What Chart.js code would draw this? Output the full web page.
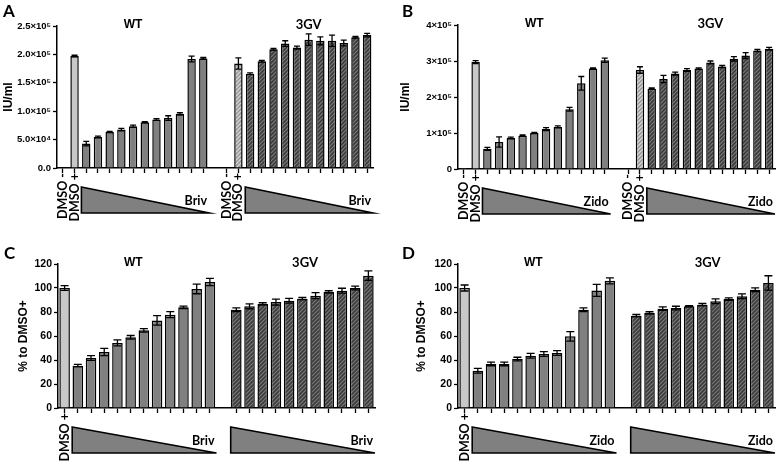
<!DOCTYPE html>
<html>
<head>
<meta charset="utf-8">
<script src="https://cdn.jsdelivr.net/npm/chart.js@4.4.1/dist/chart.umd.min.js"></script>
<style>
  html, body { margin: 0; padding: 0; background: #fff; }
  #wrap { position: relative; width: 777px; height: 464px; overflow: hidden; }
  canvas { position: absolute; }
</style>
</head>
<body>
<div id="wrap">
  <canvas id="cA" width="388" height="232" style="left:0;top:0"></canvas>
  <canvas id="cB" width="389" height="232" style="left:388px;top:0"></canvas>
  <canvas id="cC" width="388" height="232" style="left:0;top:232px"></canvas>
  <canvas id="cD" width="389" height="232" style="left:388px;top:232px"></canvas>
</div>
<script>
// ── DATA ──────────────────────────────────────────────────────
// A/B: 13 WT bars, one empty slot, 13 3GV bars
const catsAB = ['DMSO -', 'DMSO +', '', '', '', '', '', '', '', '', '', '', '',
                '',
                'DMSO -', 'DMSO +', '', '', '', '', '', '', '', '', '', '', ''];
// C/D: 12 WT bars, one empty slot, 11 3GV bars
const catsCD = ['DMSO +', '', '', '', '', '', '', '', '', '', '', '',
                '',
                '', '', '', '', '', '', '', '', '', '', ''];

const aWT    = [1000, 197000, 43000, 54700, 63500, 67600, 73500, 80600, 85300, 88000, 95300, 192000, 193000];
const aWTerr = [0, 1500, 4000, 1500, 1000, 2000, 2000, 1000, 1500, 4000, 2000, 5000, 1500];
const a3GV    = [1000, 184000, 166000, 188000, 209000, 219000, 212000, 226000, 224000, 224000, 220000, 230000, 234000];
const a3GVerr = [0, 10000, 1500, 1500, 1500, 5000, 2500, 10000, 7000, 10000, 5000, 1500, 3000];

const bWT    = [3000, 297000, 56000, 75000, 86000, 92500, 100000, 111000, 117000, 166000, 238000, 279000, 302000];
const bWTerr = [0, 4000, 4000, 14000, 2500, 2000, 2000, 4000, 3000, 5000, 19000, 1500, 6000];
const b3GV    = [0, 275000, 223000, 250000, 265000, 275000, 279000, 296000, 285000, 306000, 315000, 329000, 334000];
const b3GVerr = [0, 9000, 2000, 10000, 4000, 4000, 2000, 4000, 3000, 6000, 8000, 3000, 4000];

const cWT    = [100, 35.3, 41.7, 46.7, 54.2, 58.9, 64.7, 73, 77.8, 83.9, 99.2, 105];
const cWTerr = [2, 1, 2, 3, 2.5, 1.5, 1.5, 4, 2.5, 1, 4, 3];
const c3GV    = [81.9, 84.7, 86.7, 88.3, 89.4, 91.1, 93.6, 96.7, 97.8, 100, 110.3];
const c3GVerr = [1.5, 2, 1, 2.5, 2, 1, 2.5, 1, 2, 1.5, 4];

const dWT    = [100, 31.1, 36.7, 36.7, 40.8, 43.6, 45, 45.8, 59.7, 81.9, 98, 106];
const dWTerr = [2.5, 2, 1.5, 1.5, 1.5, 2, 2, 2, 4, 1.5, 5, 2.5];
const d3GV    = [76.9, 79.2, 82.8, 83.3, 84.7, 86.1, 88.9, 90.8, 93.1, 98.6, 104.2];
const d3GVerr = [1, 1, 1.5, 1.5, 0.5, 1, 2, 1, 2, 1.5, 6];

const aTicks = [0, 50000, 100000, 150000, 200000, 250000];
const aTickLabels = ['0.0', '5.0×10⁴', '1.0×10⁵', '1.5×10⁵', '2.0×10⁵', '2.5×10⁵'];
const bTicks = [0, 100000, 200000, 300000, 400000];
const bTickLabels = ['0', '1×10⁵', '2×10⁵', '3×10⁵', '4×10⁵'];
const pctTicks = [0, 20, 40, 60, 80, 100, 120];
const pctTickLabels = ['0', '20', '40', '60', '80', '100', '120'];

// ── STYLE HELPERS ─────────────────────────────────────────────
const LIGHT = '#c8c8c8';
const MID   = '#808080';

function hatch(bg, fg) {
  const c = document.createElement('canvas');
  c.width = 4; c.height = 4;
  const x = c.getContext('2d');
  x.fillStyle = bg; x.fillRect(0, 0, 4, 4);
  x.strokeStyle = fg; x.lineWidth = 1.2;
  x.beginPath();
  x.moveTo(0, 4); x.lineTo(4, 0);
  x.moveTo(-1, 1); x.lineTo(1, -1);
  x.moveTo(3, 5); x.lineTo(5, 3);
  x.stroke();
  return x.createPattern(c, 'repeat');
}
const DARK_H  = hatch('#3c3c3c', '#7a7a7a');
const LIGHT_H = hatch('#9a9a9a', '#dcdcdc');

// colours for one group: controls first, then drug bars
function groupColors(n, ctrl, drug) {
  return Array.from({ length: n }, (_, i) => i < ctrl.length ? ctrl[i] : drug);
}

// ── DECORATION PLUGIN: error bars, titles, triangles, letter ──
const deco = {
  id: 'deco',
  afterDatasetsDraw(chart, args, o) {
    const { ctx, chartArea: area, scales: { x, y } } = chart;
    const slot = x.getPixelForValue(1) - x.getPixelForValue(0);
    const data = chart.data.datasets[0].data;
    ctx.save();

    // error bars
    ctx.strokeStyle = '#000';
    ctx.lineWidth = 1.3;
    o.err.forEach((e, i) => {
      const v = data[i];
      if (v == null || !e) return;
      const px = x.getPixelForValue(i);
      const y1 = y.getPixelForValue(v + e), y2 = y.getPixelForValue(v - e);
      ctx.beginPath();
      ctx.moveTo(px, y1); ctx.lineTo(px, y2);
      ctx.moveTo(px - o.cap, y1); ctx.lineTo(px + o.cap, y1);
      ctx.moveTo(px - o.cap, y2); ctx.lineTo(px + o.cap, y2);
      ctx.stroke();
    });

    // group titles
    ctx.fillStyle = '#000';
    ctx.textAlign = 'center';
    ctx.textBaseline = 'middle';
    o.titles.forEach(t => {
      ctx.font = t.font;
      ctx.fillText(t.text, x.getPixelForValue(t.slot), area.top - 1);
    });

    // dose triangles
    o.tris.forEach(t => {
      const left  = x.getPixelForValue(t.from) - slot / 2 + 1;
      const right = x.getPixelForValue(t.to) + slot / 2;
      const top = area.bottom + 19, bot = area.bottom + 45;
      ctx.beginPath();
      ctx.moveTo(left, top); ctx.lineTo(right, bot); ctx.lineTo(left, bot);
      ctx.closePath();
      ctx.fillStyle = MID; ctx.fill();
      ctx.lineWidth = 1.6; ctx.strokeStyle = '#000'; ctx.stroke();
      ctx.fillStyle = '#000';
      ctx.font = 'bold 12.5px Lato';
      ctx.textAlign = 'right';
      ctx.textBaseline = 'alphabetic';
      ctx.fillText(t.text, right - 2, bot - 8);
    });

    // panel letter
    ctx.font = 'bold 17px Lato';
    ctx.textAlign = 'left';
    ctx.textBaseline = 'alphabetic';
    ctx.fillText(o.letter, o.lx, o.ly);
    ctx.restore();
  }
};

// ── PANEL BUILDER ─────────────────────────────────────────────
function drawPanel(id, p) {
  const gap = p.gap;
  new Chart(document.getElementById(id), {
    type: 'bar',
    data: {
      labels: p.cats,
      datasets: [{
        data: [...p.wt, null, ...p.gv],
        backgroundColor: [...p.wtColors, 'transparent', ...p.gvColors],
        borderColor: '#000',
        borderWidth: 1.5,
        barPercentage: p.barPct,
        categoryPercentage: 1
      }]
    },
    options: {
      responsive: false,
      animation: false,
      layout: { padding: { left: 0, right: p.padR, top: p.padT, bottom: 0 } },
      plugins: {
        legend: { display: false },
        tooltip: { enabled: false },
        deco: {
          err: [...p.wtErr, 0, ...p.gvErr],
          cap: p.cap,
          titles: p.titles,
          tris: p.tris,
          letter: p.letter, lx: p.lx, ly: p.ly
        }
      },
      scales: {
        x: {
          offset: true,
          grid: {
            drawOnChartArea: false, offset: false, tickLength: 5, tickWidth: 1.3,
            tickColor: c => c.index === gap ? 'rgba(0,0,0,0)' : '#000'
          },
          border: { color: '#000', width: 1.5 },
          ticks: {
            autoSkip: false, minRotation: 90, maxRotation: 90, padding: 0,
            color: '#000', font: { family: 'Lato', weight: 'bold', size: 12.5 }
          },
          afterFit: s => { s.height = p.xH; s.paddingLeft = 0; s.paddingRight = 0; }
        },
        y: {
          min: 0, max: p.yTicks[p.yTicks.length - 1],
          afterBuildTicks: s => { s.ticks = p.yTicks.map(v => ({ value: v })); },
          ticks: {
            callback: (v, i) => p.yLabels[i],
            color: '#000', padding: 2,
            font: { family: 'Liberation Sans', weight: 'bold', size: p.tickSize }
          },
          grid: { drawOnChartArea: false, tickLength: 4, tickWidth: 1.3, tickColor: '#000' },
          border: { color: '#000', width: 1.5 },
          title: {
            display: true, text: p.yTitle, color: '#000',
            font: { family: 'Liberation Sans', weight: 'bold', size: 12 },
            padding: { top: p.titlePad, bottom: 0 }
          },
          afterFit: s => { s.width = p.yW; s.paddingTop = 0; s.paddingBottom = 0; }
        }
      }
    },
    plugins: [deco]
  });
}

const wtTitle = 'bold 12px "Liberation Sans"';
const gvTitle = 'bold 13px Lato';

drawPanel('cA', {
  cats: catsAB, gap: 13,
  wt: aWT, gv: a3GV, wtErr: aWTerr, gvErr: a3GVerr,
  wtColors: groupColors(13, [LIGHT, LIGHT], MID),
  gvColors: groupColors(13, [LIGHT_H, LIGHT_H], DARK_H),
  barPct: 0.72, cap: 3,
  yTicks: aTicks, yLabels: aTickLabels, tickSize: 9.5, yTitle: 'IU/ml', titlePad: 1,
  yW: 57, xH: 64, padR: 15, padT: 26,
  titles: [{ text: 'WT', slot: 6, font: wtTitle }, { text: '3GV', slot: 21, font: gvTitle }],
  tris: [{ from: 2, to: 12, text: 'Briv' }, { from: 16, to: 26, text: 'Briv' }],
  letter: 'A', lx: 3, ly: 17
});

drawPanel('cB', {
  cats: catsAB, gap: 13,
  wt: bWT, gv: b3GV, wtErr: bWTerr, gvErr: b3GVerr,
  wtColors: groupColors(13, [LIGHT, LIGHT], MID),
  gvColors: groupColors(13, [LIGHT_H, LIGHT_H], DARK_H),
  barPct: 0.72, cap: 3,
  yTicks: bTicks, yLabels: bTickLabels, tickSize: 9.5, yTitle: 'IU/ml', titlePad: 10,
  yW: 70, xH: 63, padR: 2, padT: 25,
  titles: [{ text: 'WT', slot: 6, font: wtTitle }, { text: '3GV', slot: 21, font: gvTitle }],
  tris: [{ from: 2, to: 12, text: 'Zido' }, { from: 16, to: 26, text: 'Zido' }],
  letter: 'B', lx: 14, ly: 17
});

drawPanel('cC', {
  cats: catsCD, gap: 12,
  wt: cWT, gv: c3GV, wtErr: cWTerr, gvErr: c3GVerr,
  wtColors: groupColors(12, [LIGHT], MID),
  gvColors: groupColors(11, [], DARK_H),
  barPct: 0.8, cap: 4,
  yTicks: pctTicks, yLabels: pctTickLabels, tickSize: 10.5, yTitle: '% to DMSO+', titlePad: 16,
  yW: 58, xH: 56, padR: 13, padT: 32,
  titles: [{ text: 'WT', slot: 5.2, font: wtTitle }, { text: '3GV', slot: 18.2, font: gvTitle }],
  tris: [{ from: 1, to: 11, text: 'Briv' }, { from: 13, to: 23, text: 'Briv' }],
  letter: 'C', lx: 4, ly: 27
});

drawPanel('cD', {
  cats: catsCD, gap: 12,
  wt: dWT, gv: d3GV, wtErr: dWTerr, gvErr: d3GVerr,
  wtColors: groupColors(12, [LIGHT], MID),
  gvColors: groupColors(11, [], DARK_H),
  barPct: 0.8, cap: 4,
  yTicks: pctTicks, yLabels: pctTickLabels, tickSize: 10.5, yTitle: '% to DMSO+', titlePad: 26,
  yW: 70, xH: 56, padR: 2, padT: 32,
  titles: [{ text: 'WT', slot: 5.2, font: wtTitle }, { text: '3GV', slot: 18.4, font: gvTitle }],
  tris: [{ from: 1, to: 11, text: 'Zido' }, { from: 13, to: 23, text: 'Zido' }],
  letter: 'D', lx: 14, ly: 27
});
</script>
</body>
</html>
